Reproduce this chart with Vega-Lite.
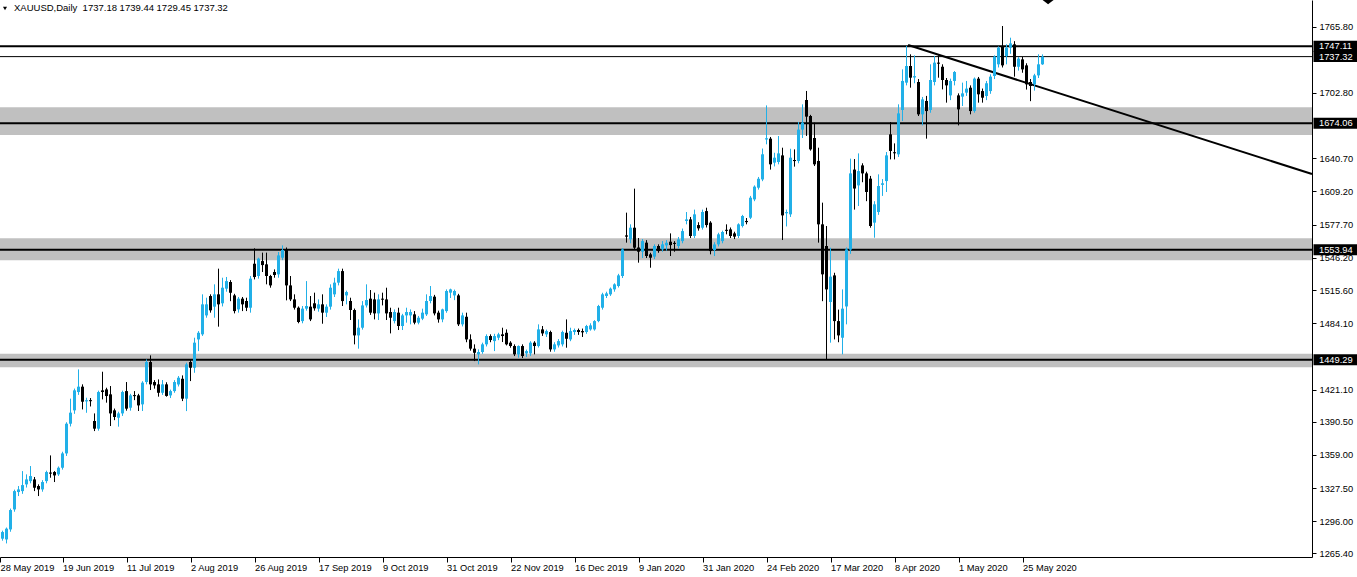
{
"$schema": "https://vega.github.io/schema/vega-lite/v6.json",
"width": 1312, "height": 557,
"autosize": {"type": "none"},
"padding": {"left": 0, "top": 0, "right": 45, "bottom": 20},
"background": "white",
"config": {"view": {"stroke": null}, "font": "Liberation Sans", "text": {"font": "Liberation Sans"}, "scale": {"continuousPadding": 0}},
"datasets": {
"candles": [
{"i":0,"o":1286.6,"h":1288.5,"l":1278,"c":1279.4},
{"i":1,"o":1279.4,"h":1287,"l":1277.5,"c":1285.7},
{"i":2,"o":1278.7,"h":1290,"l":1274.9,"c":1288.9},
{"i":3,"o":1288.2,"h":1308,"l":1286,"c":1306.6},
{"i":4,"o":1307.2,"h":1326,"l":1305,"c":1324.6},
{"i":5,"o":1323.7,"h":1329.4,"l":1319.9,"c":1326.2},
{"i":6,"o":1324.6,"h":1343.6,"l":1322,"c":1330.3},
{"i":7,"o":1331,"h":1340.5,"l":1328,"c":1335.7},
{"i":8,"o":1334.1,"h":1348.4,"l":1332,"c":1338.9},
{"i":9,"o":1335.7,"h":1338,"l":1324.6,"c":1327.8},
{"i":10,"o":1329.4,"h":1331,"l":1319.9,"c":1326.2},
{"i":11,"o":1326.2,"h":1335,"l":1324,"c":1333.2},
{"i":12,"o":1334.1,"h":1344,"l":1332,"c":1342.7},
{"i":13,"o":1342.2,"h":1358.5,"l":1337.3,"c":1341.2},
{"i":14,"o":1342.7,"h":1343.6,"l":1333.2,"c":1339.5},
{"i":15,"o":1340.5,"h":1348,"l":1339,"c":1346.8},
{"i":16,"o":1346.8,"h":1362,"l":1345,"c":1360.4},
{"i":17,"o":1360.4,"h":1390,"l":1358,"c":1388.6},
{"i":18,"o":1388.6,"h":1412.4,"l":1386,"c":1399.1},
{"i":19,"o":1401.3,"h":1422,"l":1398,"c":1420.3},
{"i":20,"o":1418.7,"h":1440.2,"l":1416,"c":1423.8},
{"i":21,"o":1423.8,"h":1426,"l":1402.2,"c":1409.5},
{"i":22,"o":1409.8,"h":1413.3,"l":1399,"c":1411},
{"i":23,"o":1411,"h":1413,"l":1405,"c":1410},
{"i":24,"o":1391.2,"h":1398.4,"l":1381.6,"c":1383.9},
{"i":25,"o":1383.9,"h":1420,"l":1382,"c":1418.7},
{"i":26,"o":1420.3,"h":1438,"l":1411.7,"c":1418.7},
{"i":27,"o":1421.2,"h":1422.8,"l":1408.6,"c":1414.9},
{"i":28,"o":1416.5,"h":1424.4,"l":1386.4,"c":1398.4},
{"i":29,"o":1401.3,"h":1403,"l":1392,"c":1395},
{"i":30,"o":1394.3,"h":1400,"l":1385.8,"c":1398.4},
{"i":31,"o":1398.4,"h":1420,"l":1396,"c":1418.7},
{"i":32,"o":1419.6,"h":1428.2,"l":1401,"c":1402.9},
{"i":33,"o":1403.8,"h":1417,"l":1401,"c":1415.5},
{"i":34,"o":1415.8,"h":1419.6,"l":1411,"c":1414.8},
{"i":35,"o":1415.5,"h":1417,"l":1400.7,"c":1406},
{"i":36,"o":1407,"h":1429,"l":1400.7,"c":1427.6},
{"i":37,"o":1428.2,"h":1449.7,"l":1426,"c":1447.2},
{"i":38,"o":1447.2,"h":1453.5,"l":1420.6,"c":1426},
{"i":39,"o":1428.2,"h":1430,"l":1421.9,"c":1425},
{"i":40,"o":1426,"h":1430.7,"l":1414.3,"c":1418},
{"i":41,"o":1418,"h":1430.1,"l":1416,"c":1426},
{"i":42,"o":1426,"h":1428,"l":1414.3,"c":1415},
{"i":43,"o":1415.5,"h":1421,"l":1413,"c":1419.6},
{"i":44,"o":1419.6,"h":1430,"l":1418,"c":1428.2},
{"i":45,"o":1425.9,"h":1433.9,"l":1424,"c":1432.3},
{"i":46,"o":1431.3,"h":1434.5,"l":1410.1,"c":1412.4},
{"i":47,"o":1412.4,"h":1446.6,"l":1400.6,"c":1445},
{"i":48,"o":1447.2,"h":1449.7,"l":1429.1,"c":1441.8},
{"i":49,"o":1441.8,"h":1470.3,"l":1437,"c":1465.6},
{"i":50,"o":1468.7,"h":1476.6,"l":1457.6,"c":1475},
{"i":51,"o":1473.5,"h":1511.5,"l":1472,"c":1502},
{"i":52,"o":1491.5,"h":1508.3,"l":1489.3,"c":1502},
{"i":53,"o":1509.9,"h":1511.5,"l":1494.1,"c":1496.3},
{"i":54,"o":1499.8,"h":1521,"l":1489.3,"c":1511.5},
{"i":55,"o":1511.5,"h":1535.9,"l":1480.8,"c":1502},
{"i":56,"o":1503,"h":1527.3,"l":1500,"c":1517.8},
{"i":57,"o":1516.9,"h":1528,"l":1514,"c":1524.1},
{"i":58,"o":1523.2,"h":1525,"l":1505,"c":1513},
{"i":59,"o":1510.5,"h":1512,"l":1493.4,"c":1495.6},
{"i":60,"o":1497.2,"h":1509,"l":1494.1,"c":1507.4},
{"i":61,"o":1507.4,"h":1509,"l":1495.6,"c":1502},
{"i":62,"o":1505.2,"h":1508.3,"l":1495.6,"c":1498.8},
{"i":63,"o":1498.8,"h":1528.9,"l":1494.1,"c":1526.4},
{"i":64,"o":1540.6,"h":1555.2,"l":1525.7,"c":1527.9},
{"i":65,"o":1528.9,"h":1546.3,"l":1526.4,"c":1545.4},
{"i":66,"o":1543.1,"h":1551.1,"l":1532.7,"c":1539.3},
{"i":67,"o":1540,"h":1551.1,"l":1521,"c":1528.9},
{"i":68,"o":1528.9,"h":1530,"l":1517.8,"c":1520},
{"i":69,"o":1532.7,"h":1535.2,"l":1527.3,"c":1529.9},
{"i":70,"o":1530.5,"h":1551.7,"l":1527.3,"c":1548.5},
{"i":71,"o":1546.3,"h":1558,"l":1544,"c":1553.6},
{"i":72,"o":1553.6,"h":1556,"l":1505.8,"c":1520},
{"i":73,"o":1520,"h":1528.9,"l":1505.1,"c":1506.7},
{"i":74,"o":1506.7,"h":1511.5,"l":1497,"c":1498.8},
{"i":75,"o":1498.8,"h":1500,"l":1484,"c":1485.2},
{"i":76,"o":1486.1,"h":1500.4,"l":1484,"c":1497.9},
{"i":77,"o":1497.9,"h":1524.1,"l":1496,"c":1500.4},
{"i":78,"o":1499.8,"h":1509.9,"l":1486.1,"c":1487.7},
{"i":79,"o":1503,"h":1513.1,"l":1496,"c":1498.2},
{"i":80,"o":1497.9,"h":1506.7,"l":1495,"c":1502},
{"i":81,"o":1502,"h":1511.5,"l":1483.6,"c":1494.1},
{"i":82,"o":1494.1,"h":1502,"l":1490,"c":1499.8},
{"i":83,"o":1499.8,"h":1521,"l":1497,"c":1517.8},
{"i":84,"o":1511.5,"h":1527.3,"l":1509,"c":1522.6},
{"i":85,"o":1522.6,"h":1535.9,"l":1520,"c":1533.6},
{"i":86,"o":1533.6,"h":1535.9,"l":1500.4,"c":1505.1},
{"i":87,"o":1510.5,"h":1515,"l":1502,"c":1513.7},
{"i":88,"o":1505.2,"h":1508.3,"l":1487.1,"c":1496.6},
{"i":89,"o":1496.6,"h":1498,"l":1464,"c":1472.5},
{"i":90,"o":1472.5,"h":1487.7,"l":1459.9,"c":1479.8},
{"i":91,"o":1479.8,"h":1505.1,"l":1478,"c":1501},
{"i":92,"o":1501,"h":1521,"l":1499,"c":1506.1},
{"i":93,"o":1507.4,"h":1515.6,"l":1492,"c":1494.1},
{"i":94,"o":1506.7,"h":1513.1,"l":1487.7,"c":1493.4},
{"i":95,"o":1493.4,"h":1511.5,"l":1487.1,"c":1506.7},
{"i":96,"o":1507.4,"h":1513.1,"l":1501,"c":1506.4},
{"i":97,"o":1506.7,"h":1517.8,"l":1487.1,"c":1493.4},
{"i":98,"o":1494.7,"h":1498.8,"l":1474.4,"c":1489.3},
{"i":99,"o":1486.1,"h":1497.2,"l":1483.9,"c":1494.7},
{"i":100,"o":1494.1,"h":1498.8,"l":1477.6,"c":1481.4},
{"i":101,"o":1481.4,"h":1493,"l":1477.6,"c":1491.5},
{"i":102,"o":1491.5,"h":1498.8,"l":1484.6,"c":1494.7},
{"i":103,"o":1491.5,"h":1497.2,"l":1483,"c":1494.7},
{"i":104,"o":1492.5,"h":1495.6,"l":1483,"c":1484.6},
{"i":105,"o":1484.6,"h":1491,"l":1483,"c":1489.3},
{"i":106,"o":1488.4,"h":1497.9,"l":1487,"c":1494.1},
{"i":107,"o":1492.5,"h":1511.5,"l":1491,"c":1505.2},
{"i":108,"o":1505.2,"h":1519.4,"l":1503,"c":1509.9},
{"i":109,"o":1509.3,"h":1511,"l":1491.5,"c":1493.4},
{"i":110,"o":1494.1,"h":1496,"l":1484.6,"c":1487.7},
{"i":111,"o":1487.7,"h":1497.9,"l":1485,"c":1497.2},
{"i":112,"o":1495.6,"h":1516.2,"l":1494,"c":1514.7},
{"i":113,"o":1513.1,"h":1516.9,"l":1508,"c":1516.2},
{"i":114,"o":1510.5,"h":1516,"l":1506,"c":1514.7},
{"i":115,"o":1510.5,"h":1512,"l":1481.4,"c":1483},
{"i":116,"o":1483,"h":1494.1,"l":1481,"c":1491.5},
{"i":117,"o":1490.2,"h":1494.1,"l":1466,"c":1468.7},
{"i":118,"o":1468.7,"h":1473.5,"l":1458,"c":1459.9},
{"i":119,"o":1459.9,"h":1464,"l":1448.1,"c":1456},
{"i":120,"o":1454.5,"h":1459.2,"l":1445,"c":1456.7},
{"i":121,"o":1456.7,"h":1465.6,"l":1455,"c":1464},
{"i":122,"o":1464,"h":1473.5,"l":1462,"c":1471.9},
{"i":123,"o":1471.9,"h":1473.5,"l":1466,"c":1468.1},
{"i":124,"o":1467.1,"h":1474,"l":1457.6,"c":1471.9},
{"i":125,"o":1470.3,"h":1475,"l":1468,"c":1473.5},
{"i":126,"o":1473.5,"h":1479.8,"l":1466.2,"c":1471.9},
{"i":127,"o":1475,"h":1478.2,"l":1463,"c":1464},
{"i":128,"o":1465.6,"h":1467,"l":1460.8,"c":1462.4},
{"i":129,"o":1462.4,"h":1464,"l":1452.9,"c":1454.5},
{"i":130,"o":1454.5,"h":1463,"l":1451.3,"c":1462.4},
{"i":131,"o":1462.4,"h":1464,"l":1451,"c":1452.9},
{"i":132,"o":1455.4,"h":1459,"l":1452,"c":1457.6},
{"i":133,"o":1455.4,"h":1467,"l":1453,"c":1465.6},
{"i":134,"o":1465.6,"h":1467,"l":1454.5,"c":1462.4},
{"i":135,"o":1462.4,"h":1483,"l":1461,"c":1478.2},
{"i":136,"o":1478.2,"h":1481.4,"l":1472,"c":1474.4},
{"i":137,"o":1473.5,"h":1478,"l":1471,"c":1476.6},
{"i":138,"o":1475.7,"h":1477,"l":1457,"c":1459.2},
{"i":139,"o":1459.2,"h":1466,"l":1457,"c":1464},
{"i":140,"o":1463,"h":1469,"l":1461,"c":1467.1},
{"i":141,"o":1464,"h":1477,"l":1462,"c":1475.7},
{"i":142,"o":1475,"h":1487.7,"l":1460.8,"c":1469.3},
{"i":143,"o":1468.7,"h":1479.8,"l":1467,"c":1476.6},
{"i":144,"o":1475.7,"h":1479,"l":1473,"c":1477.6},
{"i":145,"o":1477.6,"h":1479,"l":1473,"c":1475.7},
{"i":146,"o":1476.6,"h":1479,"l":1471,"c":1475.4},
{"i":147,"o":1475.7,"h":1482.5,"l":1474,"c":1481.4},
{"i":148,"o":1478.2,"h":1484,"l":1477,"c":1482},
{"i":149,"o":1478.2,"h":1487,"l":1477,"c":1486.1},
{"i":150,"o":1486.1,"h":1501.5,"l":1485,"c":1500.4},
{"i":151,"o":1498.8,"h":1513,"l":1497,"c":1511.5},
{"i":152,"o":1509.9,"h":1514,"l":1508,"c":1512.4},
{"i":153,"o":1511.5,"h":1518,"l":1510,"c":1516.9},
{"i":154,"o":1516.2,"h":1522,"l":1514,"c":1521},
{"i":155,"o":1519.4,"h":1531,"l":1518,"c":1529.5},
{"i":156,"o":1528.9,"h":1555.5,"l":1527,"c":1554.2},
{"i":157,"o":1567.5,"h":1589.1,"l":1560.6,"c":1566.3},
{"i":158,"o":1563.7,"h":1578,"l":1560,"c":1574.8},
{"i":159,"o":1574.8,"h":1611.9,"l":1554.2,"c":1555.8},
{"i":160,"o":1556,"h":1565,"l":1541.6,"c":1552},
{"i":161,"o":1552,"h":1564,"l":1546,"c":1562.1},
{"i":162,"o":1560.6,"h":1563,"l":1546,"c":1547.9},
{"i":163,"o":1549.5,"h":1551,"l":1536.8,"c":1546.3},
{"i":164,"o":1547.3,"h":1559,"l":1545,"c":1557.4},
{"i":165,"o":1557.4,"h":1559,"l":1551,"c":1552.6},
{"i":166,"o":1554.2,"h":1562.1,"l":1552,"c":1559},
{"i":167,"o":1558,"h":1563,"l":1553,"c":1560.5},
{"i":168,"o":1561.5,"h":1569.4,"l":1547.9,"c":1558.3},
{"i":169,"o":1560.4,"h":1562,"l":1552,"c":1559.4},
{"i":170,"o":1557.4,"h":1566,"l":1555,"c":1563.7},
{"i":171,"o":1562.1,"h":1574,"l":1560,"c":1571.6},
{"i":172,"o":1581.2,"h":1589.7,"l":1578,"c":1582.7},
{"i":173,"o":1582.7,"h":1585,"l":1565,"c":1566.9},
{"i":174,"o":1567,"h":1592,"l":1565,"c":1587.5},
{"i":175,"o":1577.3,"h":1580,"l":1572,"c":1574.2},
{"i":176,"o":1574.8,"h":1592,"l":1573,"c":1589.7},
{"i":177,"o":1590.6,"h":1593.8,"l":1575,"c":1577.3},
{"i":178,"o":1579.6,"h":1581,"l":1549.5,"c":1552.6},
{"i":179,"o":1553.6,"h":1561,"l":1547.9,"c":1558.9},
{"i":180,"o":1559,"h":1570,"l":1557,"c":1568.5},
{"i":181,"o":1562.1,"h":1572,"l":1560,"c":1570.7},
{"i":182,"o":1572.8,"h":1578,"l":1568.5,"c":1571.8},
{"i":183,"o":1573.2,"h":1575,"l":1565,"c":1566.9},
{"i":184,"o":1569.4,"h":1571,"l":1564,"c":1566.3},
{"i":185,"o":1566.9,"h":1579,"l":1565,"c":1578},
{"i":186,"o":1576.4,"h":1587,"l":1575,"c":1585.9},
{"i":187,"o":1581.2,"h":1584,"l":1578,"c":1580.1},
{"i":188,"o":1584.3,"h":1605,"l":1583,"c":1603.3},
{"i":189,"o":1601.7,"h":1615,"l":1600,"c":1613.8},
{"i":190,"o":1612.8,"h":1623,"l":1611,"c":1621.3},
{"i":191,"o":1620.7,"h":1650,"l":1619,"c":1644.5},
{"i":192,"o":1658.6,"h":1691,"l":1654,"c":1659.8},
{"i":193,"o":1659.4,"h":1661,"l":1630,"c":1635},
{"i":194,"o":1636.6,"h":1646,"l":1633,"c":1641.3},
{"i":195,"o":1637.2,"h":1661.9,"l":1635,"c":1645.4},
{"i":196,"o":1643.5,"h":1650.8,"l":1563.1,"c":1586.5},
{"i":197,"o":1588.5,"h":1592,"l":1576,"c":1589.7},
{"i":198,"o":1587.5,"h":1649.8,"l":1585,"c":1641.3},
{"i":199,"o":1639.1,"h":1649.2,"l":1632.8,"c":1638.1},
{"i":200,"o":1638.2,"h":1675.2,"l":1636,"c":1668},
{"i":201,"o":1668,"h":1692,"l":1660,"c":1674.6},
{"i":202,"o":1696.1,"h":1704.7,"l":1662,"c":1680.3},
{"i":203,"o":1680.9,"h":1682,"l":1648,"c":1649.2},
{"i":204,"o":1660,"h":1674.6,"l":1633.4,"c":1635},
{"i":205,"o":1638.2,"h":1650.8,"l":1560.6,"c":1578},
{"i":206,"o":1578,"h":1598.6,"l":1505,"c":1530.5},
{"i":207,"o":1557.4,"h":1576.4,"l":1449.7,"c":1516.2},
{"i":208,"o":1504.2,"h":1555.8,"l":1465.6,"c":1528.3},
{"i":209,"o":1529.5,"h":1532,"l":1468.7,"c":1486.1},
{"i":210,"o":1486.1,"h":1497,"l":1466,"c":1472.5},
{"i":211,"o":1470.3,"h":1516.2,"l":1454.5,"c":1497.9},
{"i":212,"o":1500,"h":1556,"l":1483,"c":1554.2},
{"i":213,"o":1554,"h":1640.4,"l":1550,"c":1626.4},
{"i":214,"o":1630,"h":1640,"l":1592,"c":1612},
{"i":215,"o":1615,"h":1645.4,"l":1595.4,"c":1628.6},
{"i":216,"o":1634,"h":1636,"l":1618,"c":1626.4},
{"i":217,"o":1626.4,"h":1628,"l":1600,"c":1608.7},
{"i":218,"o":1621.4,"h":1624,"l":1574.8,"c":1576.4},
{"i":219,"o":1579.6,"h":1600,"l":1565.3,"c":1597},
{"i":220,"o":1589.7,"h":1625.5,"l":1587,"c":1614.4},
{"i":221,"o":1615.5,"h":1621,"l":1605,"c":1617},
{"i":222,"o":1619.1,"h":1646.7,"l":1608.7,"c":1643.5},
{"i":223,"o":1663.5,"h":1675.2,"l":1639.7,"c":1647.7},
{"i":224,"o":1646.5,"h":1654.9,"l":1639.7,"c":1645.5},
{"i":225,"o":1644.5,"h":1692,"l":1642,"c":1683.4},
{"i":226,"o":1686.6,"h":1725.2,"l":1676.2,"c":1714.2},
{"i":227,"o":1712.6,"h":1747.5,"l":1710,"c":1728.4},
{"i":228,"o":1728.4,"h":1739.5,"l":1707.8,"c":1717.3},
{"i":229,"o":1717.5,"h":1738.5,"l":1712,"c":1718.8},
{"i":230,"o":1713.2,"h":1716,"l":1680.9,"c":1682.5},
{"i":231,"o":1682.5,"h":1699,"l":1672,"c":1696.7},
{"i":232,"o":1695.2,"h":1700,"l":1659.4,"c":1685.6},
{"i":233,"o":1686.6,"h":1730,"l":1684,"c":1715.1},
{"i":234,"o":1713.2,"h":1738,"l":1710,"c":1731.6},
{"i":235,"o":1731.6,"h":1738.5,"l":1717.3,"c":1730.6},
{"i":236,"o":1727.7,"h":1730,"l":1706.2,"c":1715.1},
{"i":237,"o":1715.1,"h":1717,"l":1693.6,"c":1710},
{"i":238,"o":1700.5,"h":1716.4,"l":1696,"c":1714.2},
{"i":239,"o":1714.2,"h":1723.6,"l":1710,"c":1722.7},
{"i":240,"o":1700.5,"h":1702.4,"l":1672,"c":1687.2},
{"i":241,"o":1699.3,"h":1712.6,"l":1690.4,"c":1702.4},
{"i":242,"o":1703.1,"h":1714.2,"l":1700,"c":1706.9},
{"i":243,"o":1707.8,"h":1710,"l":1682.5,"c":1685.6},
{"i":244,"o":1685.6,"h":1717.5,"l":1684,"c":1716.4},
{"i":245,"o":1716.4,"h":1718,"l":1693.6,"c":1701.5},
{"i":246,"o":1704.6,"h":1707,"l":1693.6,"c":1698.3},
{"i":247,"o":1699.9,"h":1714.2,"l":1696,"c":1712},
{"i":248,"o":1704.6,"h":1720.5,"l":1702,"c":1718.3},
{"i":249,"o":1718.9,"h":1738.5,"l":1716,"c":1737.3},
{"i":250,"o":1730,"h":1747,"l":1727,"c":1745.8},
{"i":251,"o":1746.8,"h":1766.4,"l":1727,"c":1729},
{"i":252,"o":1737.9,"h":1749,"l":1730,"c":1745.8},
{"i":253,"o":1745.8,"h":1755.3,"l":1740,"c":1749.9},
{"i":254,"o":1749,"h":1752,"l":1718.3,"c":1727.7},
{"i":255,"o":1727.7,"h":1737,"l":1724,"c":1735.4},
{"i":256,"o":1734.7,"h":1737,"l":1722,"c":1725.2},
{"i":257,"o":1729,"h":1731,"l":1706,"c":1711},
{"i":258,"o":1713.2,"h":1716,"l":1695,"c":1709.4},
{"i":259,"o":1711,"h":1721,"l":1705,"c":1719.5},
{"i":260,"o":1719.5,"h":1739.5,"l":1717,"c":1730},
{"i":261,"o":1730,"h":1739.44,"l":1729.45,"c":1737.32}
],
"bands": [{"lo":1662.9,"hi":1689.2},{"lo":1543.8,"hi":1564.7},{"lo":1442.2,"hi":1455}],
"thick": [{"p":1747.11},{"p":1674.06},{"p":1553.94},{"p":1449.29}],
"thin": [{"p":1737.32}],
"trend": [{"i":227.4,"p":1748.35},{"i":328.375,"p":1625.8}],
"labels": [{"p":1747.11},{"p":1737.32},{"p":1674.06},{"p":1553.94},{"p":1449.29}],
"header": [{"t":"XAUUSD,Daily\u00a0 1737.18 1739.44 1729.45 1737.32"}]
},
"layer": [
{"data":{"name":"bands"},"mark":{"type":"rect","color":"#c0c0c0"},
 "encoding":{"y":{"field":"lo","type":"quantitative","scale":{"domain":[1262.0,1791.1],"nice":false,"zero":false,"padding":0}},"y2":{"field":"hi"}}},
{"data":{"name":"thick"},"mark":{"type":"rule","color":"#000000","strokeWidth":2},
 "encoding":{"y":{"field":"p","type":"quantitative","scale":{"domain":[1262.0,1791.1],"nice":false,"zero":false,"padding":0}}}},
{"data":{"name":"thin"},"mark":{"type":"rule","color":"#000000","strokeWidth":1},
 "encoding":{"y":{"field":"p","type":"quantitative","scale":{"domain":[1262.0,1791.1],"nice":false,"zero":false,"padding":0}}}},
{"data":{"name":"trend"},"mark":{"type":"line","color":"#000000","strokeWidth":2},
 "encoding":{"x":{"field":"i","type":"quantitative","scale":{"domain":[0.375,328.375],"nice":false,"zero":false,"padding":0}},
 "y":{"field":"p","type":"quantitative","scale":{"domain":[1262.0,1791.1],"nice":false,"zero":false,"padding":0}}}},
{"data":{"name":"candles"},"mark":{"type":"rule","strokeWidth":1},
 "encoding":{"x":{"field":"i","type":"quantitative","scale":{"domain":[0.375,328.375],"nice":false,"zero":false,"padding":0}},
 "y":{"field":"l","type":"quantitative","scale":{"domain":[1262.0,1791.1],"nice":false,"zero":false,"padding":0}},
 "y2":{"field":"h"},
 "color":{"condition":{"test":"datum.c >= datum.o","value":"#21b0e8"},"value":"#000000"}}},
{"data":{"name":"candles"},"mark":{"type":"bar","size":3},
 "encoding":{"x":{"field":"i","type":"quantitative","scale":{"domain":[0.375,328.375],"nice":false,"zero":false,"padding":0},
   "axis":{"orient":"bottom","title":null,"values":[0.4,16,32,48,64,80,96,112,128,144,160,176,192,208,224,240,256],"tickCount":40,
   "labelExpr":"['28 May 2019','19 Jun 2019','11 Jul 2019','2 Aug 2019','26 Aug 2019','17 Sep 2019','9 Oct 2019','31 Oct 2019','22 Nov 2019','16 Dec 2019','9 Jan 2020','31 Jan 2020','24 Feb 2020','17 Mar 2020','8 Apr 2020','1 May 2020','25 May 2020'][round(datum.value/16)]",
   "labelAlign":"left","labelBaseline":"top","labelDx":2,"labelPadding":1,"labelFlush":false,"labelOverlap":false,"labelBound":false,
   "labelFont":"Liberation Sans","labelFontSize":9.3,"labelColor":"#000000","tickSize":5,"tickColor":"#000000","domainColor":"#000000","grid":false,"zindex":0}},
 "y":{"field":"o","type":"quantitative","scale":{"domain":[1262.0,1791.1],"nice":false,"zero":false,"padding":0},
   "axis":{"orient":"right","title":null,"values":[1265.4,1296.0,1327.5,1359.0,1390.5,1421.1,1484.1,1515.6,1546.2,1577.7,1609.2,1640.7,1702.8,1765.8],"tickCount":40,
   "format":".2f","labelFont":"Liberation Sans","labelFontSize":9.3,"labelColor":"#000000","labelPadding":3,"labelOverlap":false,"labelFlush":false,"labelBound":false,
   "tickSize":4,"tickColor":"#000000","domainColor":"#000000","grid":false,"zindex":0}},
 "y2":{"field":"c"},
 "color":{"condition":{"test":"datum.c >= datum.o","value":"#21b0e8"},"value":"#000000"}}},
{"data":{"name":"labels"},"mark":{"type":"tick","orient":"horizontal","size":44,"thickness":11,"color":"#000000","opacity":1},
 "encoding":{"x":{"datum":334.25,"type":"quantitative","scale":{"domain":[0.375,328.375],"nice":false,"zero":false,"padding":0}},
 "y":{"field":"p","type":"quantitative","scale":{"domain":[1262.0,1791.1],"nice":false,"zero":false,"padding":0}}}},
{"data":{"name":"labels"},"mark":{"type":"text","align":"left","baseline":"middle","color":"#ffffff","font":"Liberation Sans","fontSize":9.3},
 "encoding":{"x":{"datum":330.125,"type":"quantitative","scale":{"domain":[0.375,328.375],"nice":false,"zero":false,"padding":0}},
 "y":{"field":"p","type":"quantitative","scale":{"domain":[1262.0,1791.1],"nice":false,"zero":false,"padding":0}},
 "text":{"field":"p","type":"quantitative","format":".2f"}}},
{"data":{"name":"header"},"mark":{"type":"text","align":"left","baseline":"middle","color":"#000000","font":"Liberation Sans","fontSize":9.5},
 "encoding":{"x":{"datum":3.875,"type":"quantitative","scale":{"domain":[0.375,328.375],"nice":false,"zero":false,"padding":0}},
 "y":{"datum":1783.5,"type":"quantitative","scale":{"domain":[1262.0,1791.1],"nice":false,"zero":false,"padding":0}},
 "text":{"field":"t"}}},
{"data":{"name":"header"},"mark":{"type":"point","shape":"triangle-down","size":16,"filled":true,"color":"#000000","opacity":1},
 "encoding":{"x":{"datum":1.625,"type":"quantitative","scale":{"domain":[0.375,328.375],"nice":false,"zero":false,"padding":0}},
 "y":{"datum":1783.0,"type":"quantitative","scale":{"domain":[1262.0,1791.1],"nice":false,"zero":false,"padding":0}}}},
{"data":{"name":"header"},"mark":{"type":"point","shape":"M-1,0L1,0L0,0.75Z","size":121,"filled":true,"color":"#000000","opacity":1},
 "encoding":{"x":{"datum":262.4,"type":"quantitative","scale":{"domain":[0.375,328.375],"nice":false,"zero":false,"padding":0}},
 "y":{"datum":1791.1,"type":"quantitative","scale":{"domain":[1262.0,1791.1],"nice":false,"zero":false,"padding":0}}}}
]
}
